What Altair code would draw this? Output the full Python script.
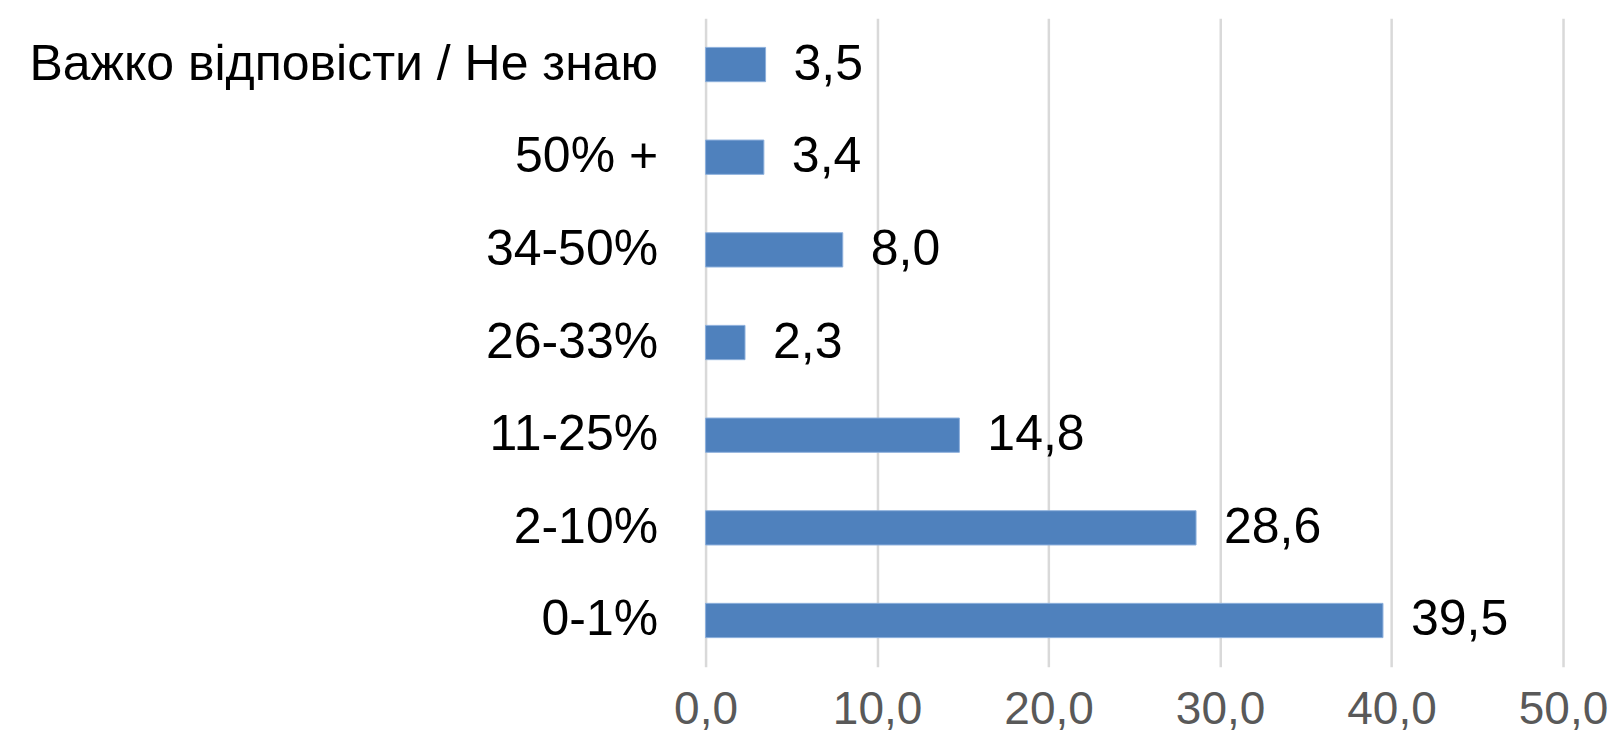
import altair as alt
import pandas as pd

categories = ["Важко відповісти / Не знаю", "50% +", "34-50%", "26-33%", "11-25%", "2-10%", "0-1%"]
values = [3.5, 3.4, 8.0, 2.3, 14.8, 28.6, 39.5]
x_ticks = [0, 10, 20, 30, 40, 50]

df = pd.DataFrame({
    "cat": categories,
    "val": values,
    "label": [f"{v:.1f}".replace(".", ",") for v in values],
})

FONT = "Liberation Sans"

y_enc = alt.Y("cat:N", sort=categories, title=None,
              scale=alt.Scale(paddingInner=0.63, paddingOuter=0.315),
              axis=alt.Axis(domain=False, ticks=False, labelFont=FONT, labelFontSize=50,
                            labelColor="#000000", labelPadding=48, labelLimit=1000))
x_enc = alt.X("val:Q", title=None,
              scale=alt.Scale(domain=[0, 50], nice=False),
              axis=alt.Axis(values=x_ticks, domain=False, ticks=False, grid=True,
                            gridColor="#D9D9D9", gridWidth=2.5, labelFlush=False,
                            labelFont=FONT, labelFontSize=46, labelColor="#595959",
                            labelPadding=21,
                            labelExpr="datum.value + ',0'"))

bars = alt.Chart(df).mark_bar(color="#4F81BD", stroke="#8DB0DC", strokeWidth=1).encode(
    x=x_enc, y=y_enc)

text = alt.Chart(df).mark_text(align="left", baseline="middle", dx=28, font=FONT,
                               fontSize=50, color="#000000").encode(
    x=x_enc, y=y_enc, text="label:N")

chart = (bars + text).properties(
    width=858, height=649,
    autosize=alt.AutoSizeParams(type="none"),
    padding={"left": 698, "top": 10, "right": 50, "bottom": 64},
).configure_view(stroke=None)

chart.save("out.html", embed_options={"renderer": "svg", "actions": False})
